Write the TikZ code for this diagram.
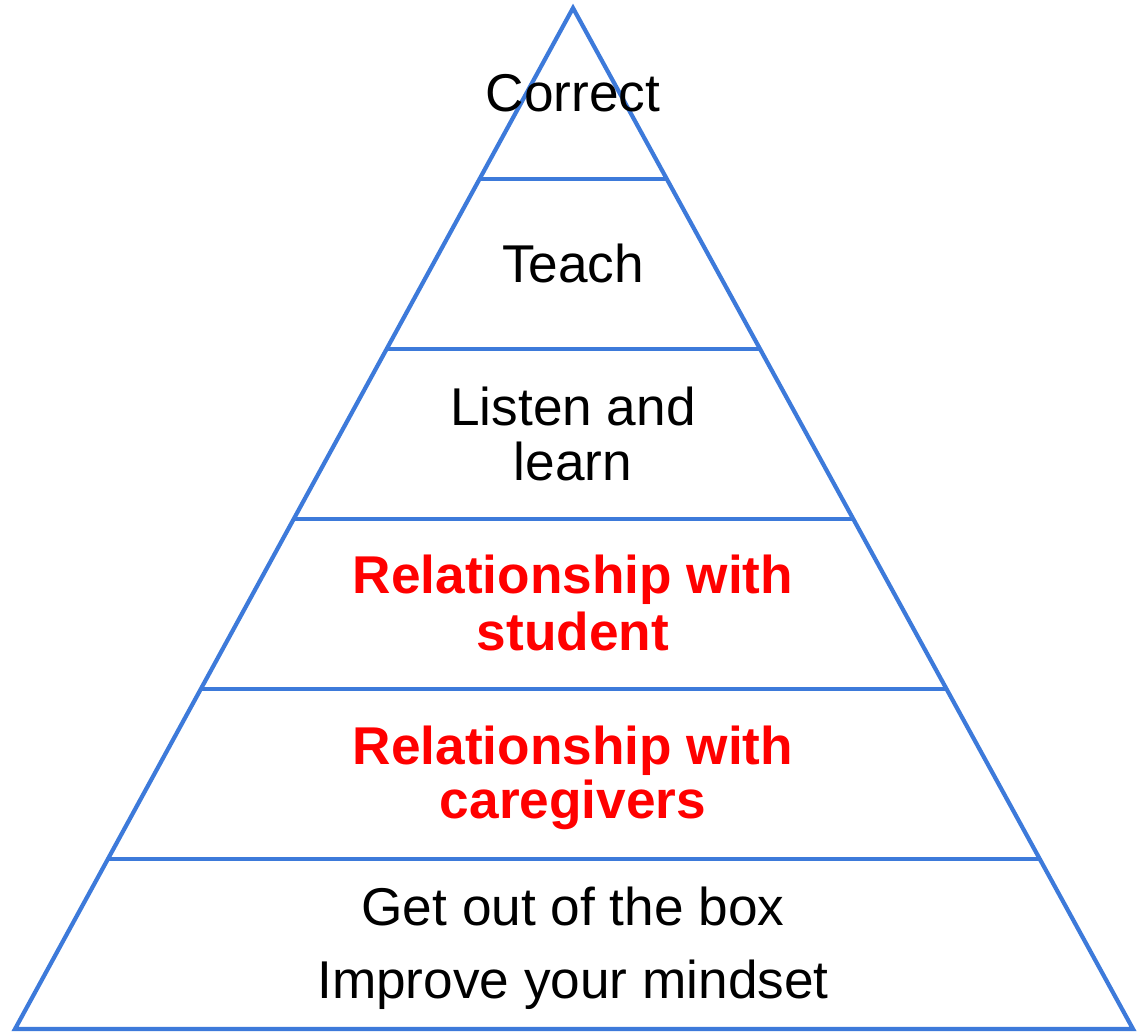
\documentclass[tikz,border=0pt]{standalone}
\usepackage{fontspec}
\setmainfont{Liberation Sans}
\usetikzlibrary{calc}
\definecolor{pyrblue}{RGB}{61,122,218}
\definecolor{pyrred}{RGB}{255,0,0}
\begin{document}
\begin{tikzpicture}[x=1pt,y=-1pt,
  edge/.style={draw=pyrblue,line width=4.2pt,line join=miter},
  lbl/.style={anchor=base,inner sep=0pt,font=\fontsize{53.2}{60}\selectfont,text=black},
  hot/.style={lbl,font=\fontsize{53.2}{60}\selectfont\bfseries,text=pyrred}]
\useasboundingbox (0,0) rectangle (1139,1031);
\coordinate (apex) at (573,8);
\coordinate (bl) at (15,1029);
\coordinate (br) at (1133,1029);
\foreach \k/\t in {1/0.16748,2/0.33399,3/0.50049,4/0.66699,5/0.83350}{
  \coordinate (l\k) at ($(apex)!\t!(bl)$);
  \coordinate (r\k) at ($(apex)!\t!(br)$);
}
\draw[edge] (apex) -- (bl) -- (br) -- cycle;
\foreach \k in {1,...,5}{\draw[edge] (l\k) -- (r\k);}
\node[lbl] (t1) at (573,111) {Correct};
\node[lbl] (t2) at (573,282) {Teach};
\node[lbl] (t3a) at (573,425) {Listen and};
\node[lbl] (t3b) at (573,480) {learn};
\node[hot] (t4a) at (573,593) {Relationship with};
\node[hot] (t4b) at (573,650) {student};
\node[hot] (t5a) at (573,764) {Relationship with};
\node[hot] (t5b) at (573,818) {caregivers};
\node[lbl] (t6a) at (573,925) {Get out of the box};
\node[lbl] (t6b) at (573,998) {Improve your mindset};
\end{tikzpicture}
\end{document}
